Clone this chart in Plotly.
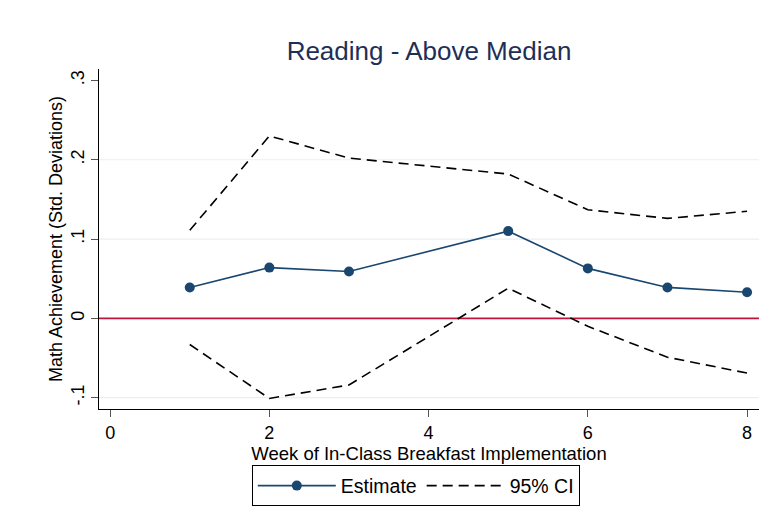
import plotly.graph_objects as go

# Weekly estimates and 95% confidence bounds (week 4 not estimated)
weeks = [1, 2, 3, 5, 6, 7, 8]
estimate = [0.039, 0.064, 0.059, 0.110, 0.063, 0.039, 0.033]
ci_upper = [0.111, 0.230, 0.202, 0.182, 0.137, 0.126, 0.135]
ci_lower = [-0.033, -0.101, -0.084, 0.038, -0.010, -0.049, -0.069]

y_tick_vals = [-0.1, 0, 0.1, 0.2, 0.3]
y_tick_text = ["-.1", "0", ".1", ".2", ".3"]
x_tick_vals = [0, 2, 4, 6, 8]
grid_vals = [-0.1, 0.1, 0.2]

FONT = "Liberation Sans, Arial, Helvetica, sans-serif"
NAVY = "#1a476f"

fig = go.Figure()

fig.add_trace(go.Scatter(
    x=weeks, y=estimate, mode="lines+markers", name="Estimate",
    line=dict(color=NAVY, width=1.6),
    marker=dict(color=NAVY, size=10),
))

# Upper and lower bounds drawn as one dashed trace split by a gap
ci_x = weeks + [None] + weeks
ci_y = ci_upper + [None] + ci_lower
fig.add_trace(go.Scatter(
    x=ci_x, y=ci_y, mode="lines", name="95% CI",
    line=dict(color="black", width=1.6, dash="10px,6px"),
    connectgaps=False,
))

shapes = []
for g in grid_vals:
    shapes.append(dict(type="line", xref="paper", x0=0, x1=1, yref="y", y0=g, y1=g,
                       line=dict(color="#e8f0f1", width=1.2), layer="below"))
shapes.append(dict(type="line", xref="paper", x0=0, x1=1, yref="y", y0=0, y1=0,
                   line=dict(color="#c0143c", width=1.6), layer="below"))

fig.update_layout(
    width=770, height=517,
    margin=dict(l=99, r=11, t=69, b=104),
    paper_bgcolor="white", plot_bgcolor="white",
    font=dict(family=FONT, color="black", size=18),
    title=dict(text="Reading - Above Median", x=0.5, xref="paper", xanchor="center",
               y=1 - 51 / 517, yref="container", yanchor="middle",
               font=dict(size=26, color="#1e2f57", family=FONT)),
    showlegend=True,
    legend=dict(orientation="h", x=0.48, xanchor="center", y=-0.166, yanchor="top",
                bordercolor="black", borderwidth=1, bgcolor="white",
                itemwidth=78, font=dict(size=19.5, family=FONT),
                traceorder="normal"),
    shapes=shapes,
)

fig.update_xaxes(
    range=[-0.14, 8.15], tickvals=x_tick_vals, ticktext=[str(v) for v in x_tick_vals],
    showgrid=False, zeroline=False, showline=True, linecolor="black", linewidth=1,
    ticks="outside", ticklen=7, tickcolor="#555555", tickfont=dict(size=18),
    title=dict(text="Week of In-Class Breakfast Implementation", standoff=0, font=dict(size=18.5)),
)
fig.update_yaxes(
    range=[-0.1143, 0.3144], tickvals=y_tick_vals, ticktext=y_tick_text, tickangle=-90,
    showgrid=False, zeroline=False, showline=True, linecolor="black", linewidth=1,
    ticks="outside", ticklen=7, tickcolor="#555555", tickfont=dict(size=18),
    title=dict(text="Math Achievement (Std. Deviations)", standoff=0, font=dict(size=18)),
)

fig.write_html("out.html")
